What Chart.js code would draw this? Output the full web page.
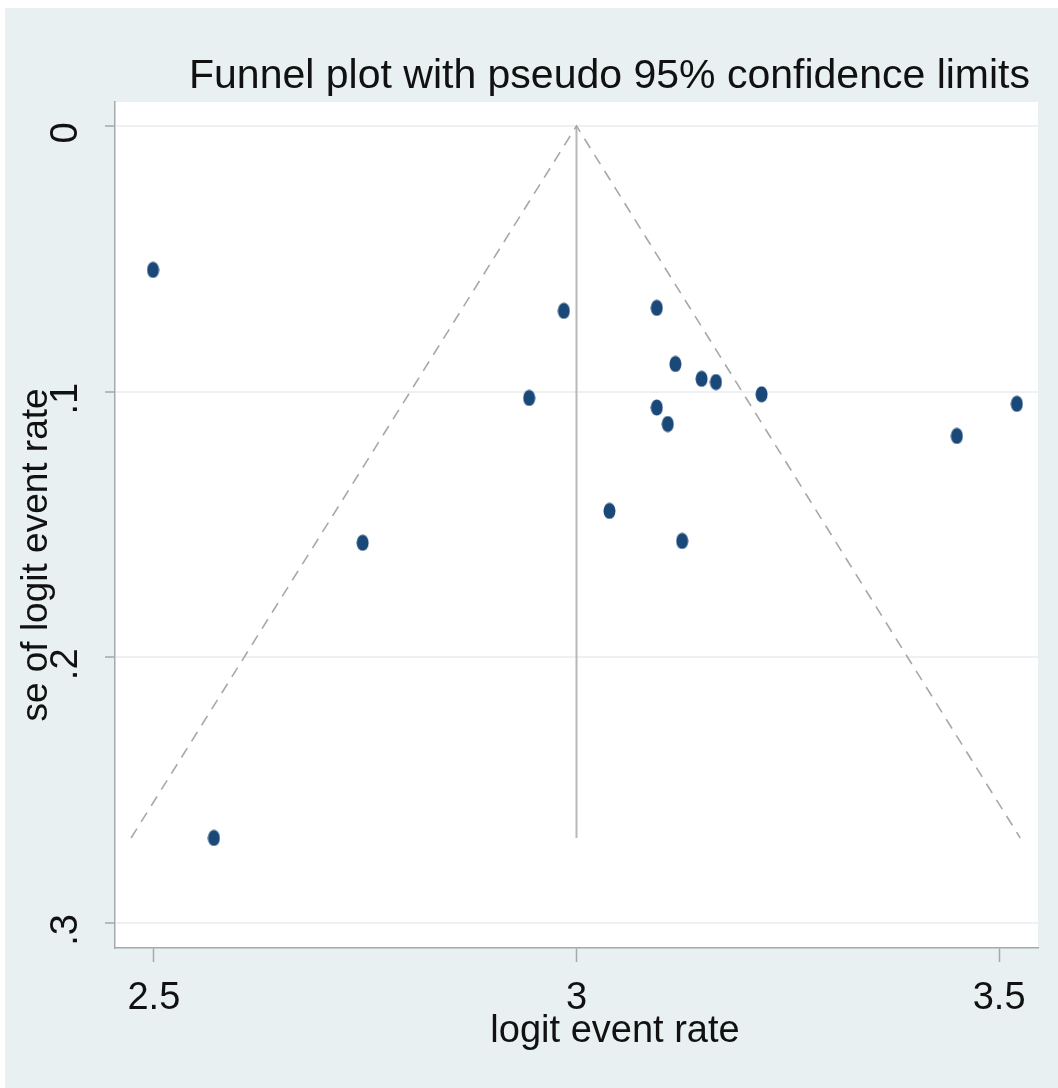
<!DOCTYPE html>
<html>
<head>
<meta charset="utf-8">
<title>Funnel plot</title>
<script src="https://cdn.jsdelivr.net/npm/chart.js@4.4.1/dist/chart.umd.min.js"></script>
<style>
  html, body { margin: 0; padding: 0; background: #ffffff; }
  #funnel { display: block; }
</style>
</head>
<body>
<canvas id="funnel" width="1058" height="1088"></canvas>
<script>
const logitRates = [2.499, 2.985, 3.095, 3.117, 3.148, 3.165, 2.944, 3.219, 3.095, 3.108, 3.521, 3.450, 3.039, 2.747, 3.125, 2.571];
const seLogit = [0.0542, 0.0696, 0.0685, 0.0896, 0.0952, 0.0964, 0.1024, 0.1010, 0.1060, 0.1122, 0.1046, 0.1167, 0.1449, 0.1569, 0.1562, 0.2680];

const funnelX = [2.473, 3, 3.525];
const funnelSe = [0.268, 0, 0.268];
const pooledX = [3, 3];
const pooledSe = [0, 0.268];

const xTicks = [2.5, 3, 3.5];
const xTickLabels = ['2.5', '3', '3.5'];
const yTicks = [0, 0.1, 0.2, 0.3];
const yTickLabels = ['0', '.1', '.2', '.3'];

const titleText = 'Funnel plot with pseudo 95% confidence limits';
const xTitle = 'logit event rate';
const yTitle = 'se of logit event rate';

const FONT = '"Liberation Sans", Arial, Helvetica, sans-serif';
const BG = '#e9f0f2';
const AXIS_GRAY = '#a3a9ac';
const DOT = '#1a4878';

function pares(xs, ys) {
  return xs.map((x, i) => ({ x, y: ys[i] }));
}

function crearPunto() {
  const c = document.createElement('canvas');
  c.width = 13;
  c.height = 17;
  const ctx = c.getContext('2d');
  ctx.fillStyle = DOT;
  ctx.beginPath();
  ctx.ellipse(6.5, 8.5, 6, 8, 0, 0, Math.PI * 2);
  ctx.fill();
  return c;
}

const fondo = {
  id: 'fondo',
  beforeDraw(chart) {
    const { ctx, chartArea } = chart;
    ctx.save();
    ctx.fillStyle = '#ffffff';
    ctx.fillRect(0, 0, chart.width, chart.height);
    ctx.fillStyle = BG;
    ctx.fillRect(5, 8, chart.width - 5, chart.height - 8);
    ctx.fillStyle = '#ffffff';
    ctx.fillRect(chartArea.left, chartArea.top, chartArea.right - chartArea.left, chartArea.bottom - chartArea.top);
    ctx.restore();
  }
};

const textos = {
  id: 'textos',
  afterDraw(chart) {
    const { ctx } = chart;
    ctx.save();
    ctx.fillStyle = '#111111';
    ctx.textBaseline = 'alphabetic';

    ctx.font = `41px ${FONT}`;
    ctx.textAlign = 'right';
    ctx.fillText(titleText, 1030, 88);

    ctx.font = `38px ${FONT}`;
    ctx.textAlign = 'center';
    ctx.fillText(xTitle, 615, 1042);

    ctx.translate(47, 555);
    ctx.rotate(-Math.PI / 2);
    ctx.font = `37px ${FONT}`;
    ctx.fillText(yTitle, 0, 0);
    ctx.restore();
  }
};

new Chart(document.getElementById('funnel'), {
  type: 'scatter',
  data: {
    datasets: [
      {
        label: 'Estudios',
        data: pares(logitRates, seLogit),
        pointStyle: crearPunto(),
        pointRadius: 8,
        showLine: false
      },
      {
        label: 'Limites 95%',
        data: pares(funnelX, funnelSe),
        showLine: true,
        borderColor: '#a8a8a8',
        borderWidth: 1.6,
        borderDash: [11, 8],
        pointRadius: 0,
        fill: false,
        tension: 0
      },
      {
        label: 'Estimacion',
        data: pares(pooledX, pooledSe),
        showLine: true,
        borderColor: '#b8b8b8',
        borderWidth: 2,
        pointRadius: 0,
        fill: false
      }
    ]
  },
  options: {
    responsive: false,
    devicePixelRatio: 1,
    animation: false,
    layout: { padding: { top: 102, right: 20, left: 0, bottom: 0 } },
    plugins: {
      legend: { display: false },
      tooltip: { enabled: false },
      title: { display: false }
    },
    scales: {
      x: {
        type: 'linear',
        min: 2.454,
        max: 3.546,
        afterBuildTicks: (scale) => { scale.ticks = xTicks.map((value) => ({ value })); },
        afterFit: (scale) => { scale.height = 140; },
        ticks: {
          callback: (value) => xTickLabels[xTicks.indexOf(value)] ?? '',
          font: { family: FONT, size: 38 },
          color: '#111111',
          padding: 14,
          maxRotation: 0,
          autoSkip: false
        },
        grid: { drawOnChartArea: false, tickLength: 14, tickColor: AXIS_GRAY, tickWidth: 1.5 },
        border: { color: AXIS_GRAY, width: 1.5 }
      },
      y: {
        type: 'linear',
        reverse: true,
        min: -0.009,
        max: 0.3094,
        afterBuildTicks: (scale) => { scale.ticks = yTicks.map((value) => ({ value })); },
        afterFit: (scale) => { scale.width = 115; },
        ticks: {
          callback: (value) => yTickLabels[yTicks.indexOf(value)] ?? '',
          font: { family: FONT, size: 38 },
          color: '#111111',
          minRotation: 90,
          maxRotation: 90,
          crossAlign: 'center',
          padding: 23,
          labelOffset: 7,
          autoSkip: false
        },
        grid: { color: '#edf1f3', lineWidth: 2, tickLength: 10, tickColor: AXIS_GRAY, tickWidth: 1.5 },
        border: { color: AXIS_GRAY, width: 1.5 }
      }
    }
  },
  plugins: [fondo, textos]
});
</script>
</body>
</html>
